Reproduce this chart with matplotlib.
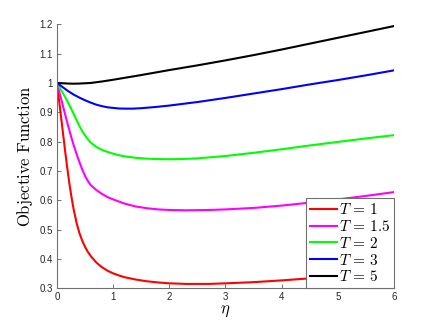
import matplotlib
matplotlib.use("Agg")
import matplotlib.pyplot as plt

# Data
eta_r = [0, 0.025, 0.05, 0.075, 0.1, 0.125, 0.15, 0.175, 0.2, 0.225, 0.25, 0.275, 0.3,
         0.35, 0.4, 0.45, 0.5, 0.55, 0.6, 0.7, 0.8, 0.9, 1.0, 1.1, 1.2, 1.4, 1.6, 1.8,
         2.0, 2.3, 2.7, 3.0, 3.5, 4.0, 4.5, 5.0, 5.5, 6.0]
T1 = [1.0, 0.96, 0.92, 0.88, 0.84, 0.80, 0.76, 0.722, 0.686, 0.652, 0.621, 0.592, 0.566,
      0.522, 0.488, 0.462, 0.441, 0.424, 0.41, 0.388, 0.372, 0.36, 0.351, 0.344, 0.338,
      0.33, 0.324, 0.32, 0.317, 0.315, 0.315, 0.317, 0.321, 0.327, 0.334, 0.341, 0.348,
      0.355]

eta_m = [0, 0.05, 0.1, 0.15, 0.2, 0.25, 0.3, 0.35, 0.4, 0.45, 0.5, 0.55, 0.6, 0.7, 0.8,
         0.9, 1.0, 1.1, 1.2, 1.4, 1.6, 1.8, 2.0, 2.3, 2.7, 3.0, 3.5, 4.0, 4.5, 5.0, 5.5, 6.0]
T15 = [1.0, 0.963, 0.926, 0.889, 0.853, 0.818, 0.786, 0.757, 0.73, 0.705, 0.683, 0.666,
       0.652, 0.635, 0.622, 0.611, 0.603, 0.596, 0.589, 0.579, 0.573, 0.569, 0.567, 0.566,
       0.567, 0.569, 0.574, 0.582, 0.592, 0.603, 0.615, 0.628]

eta_g = [0, 0.05, 0.1, 0.15, 0.2, 0.25, 0.3, 0.35, 0.4, 0.45, 0.5, 0.55, 0.6, 0.7, 0.8,
         0.9, 1.0, 1.1, 1.2, 1.4, 1.6, 1.8, 2.0, 2.2, 2.5, 3.0, 3.5, 4.0, 4.5, 5.0, 5.5, 6.0]
T2 = [1.0, 0.984, 0.967, 0.95, 0.932, 0.913, 0.893, 0.873, 0.853, 0.836, 0.821, 0.808,
      0.797, 0.782, 0.772, 0.765, 0.759, 0.754, 0.75, 0.745, 0.742, 0.7405, 0.740, 0.7405,
      0.743, 0.751, 0.762, 0.774, 0.787, 0.799, 0.811, 0.822]

eta_b = [0, 0.05, 0.1, 0.15, 0.2, 0.25, 0.3, 0.4, 0.5, 0.6, 0.7, 0.8, 0.9, 1.0, 1.1, 1.2,
         1.35, 1.5, 1.75, 2.0, 2.5, 3.0, 3.5, 4.0, 4.5, 5.0, 5.5, 6.0]
T3 = [1.0, 0.993, 0.986, 0.979, 0.972, 0.966, 0.96, 0.95, 0.941, 0.933, 0.926, 0.921,
      0.917, 0.915, 0.913, 0.9125, 0.9125, 0.914, 0.918, 0.923, 0.935, 0.949, 0.964, 0.979,
      0.995, 1.010, 1.026, 1.043]

eta_k = [0, 0.1, 0.2, 0.3, 0.4, 0.5, 0.6, 0.8, 1.0, 1.25, 1.5, 2.0, 2.5, 3.0, 3.5, 4.0,
         4.5, 5.0, 5.5, 6.0]
T5 = [1.0, 0.999, 0.998, 0.9975, 0.998, 0.999, 1.0, 1.005, 1.011, 1.019, 1.027, 1.044,
      1.060, 1.077, 1.095, 1.114, 1.134, 1.154, 1.174, 1.194]

labels = [r'$T\,=\,1$', r'$T\,=\,1.5$', r'$T\,=\,2$', r'$T\,=\,3$', r'$T\,=\,5$']
colors = ['#ff0000', '#ff00ff', '#00ff00', '#0000ff', '#000000']

xticks = [0, 1, 2, 3, 4, 5, 6]
yticks = [0.3, 0.4, 0.5, 0.6, 0.7, 0.8, 0.9, 1.0, 1.1, 1.2]
yticklabels = ['0.3', '0.4', '0.5', '0.6', '0.7', '0.8', '0.9', '1', '1.1', '1.2']

plt.rcParams['mathtext.fontset'] = 'cm'
plt.rcParams['font.family'] = ['Liberation Sans', 'DejaVu Sans']

fig = plt.figure(figsize=(4.36, 3.27), dpi=100)
ax = fig.add_axes([0.1307, 0.1183, 0.7730, 0.8074])

series = [(eta_r, T1), (eta_m, T15), (eta_g, T2), (eta_b, T3), (eta_k, T5)]
for (x, y), lab, c in zip(series, labels, colors):
    ax.plot(x, y, color=c, lw=1.5, label=lab, solid_joinstyle='round')

ax.set_xlim(0, 6)
ax.set_ylim(0.3, 1.2)
ax.set_xticks(xticks)
ax.set_yticks(yticks)
ax.set_yticklabels(yticklabels)
axcol = '#707070'
for s in ['top', 'right']:
    ax.spines[s].set_visible(False)
for s in ['left', 'bottom']:
    ax.spines[s].set_color(axcol)
    ax.spines[s].set_linewidth(0.8)
ax.tick_params(direction='in', length=3, width=0.7, color=axcol,
               labelsize=7, labelcolor='#262626', pad=3)

ax.set_xlabel(r'$\eta$', fontsize=12, labelpad=1)
ax.set_ylabel(r'$\mathrm{Objective\ Function}$', fontsize=12, labelpad=3)

leg = ax.legend(loc='lower right', borderaxespad=0, fontsize=11, fancybox=False,
                framealpha=1, edgecolor=axcol, handlelength=1.75, handletextpad=0.15,
                labelspacing=0.12, borderpad=0.25)
leg.get_frame().set_linewidth(0.8)

fig.savefig('out.png', dpi=100)
